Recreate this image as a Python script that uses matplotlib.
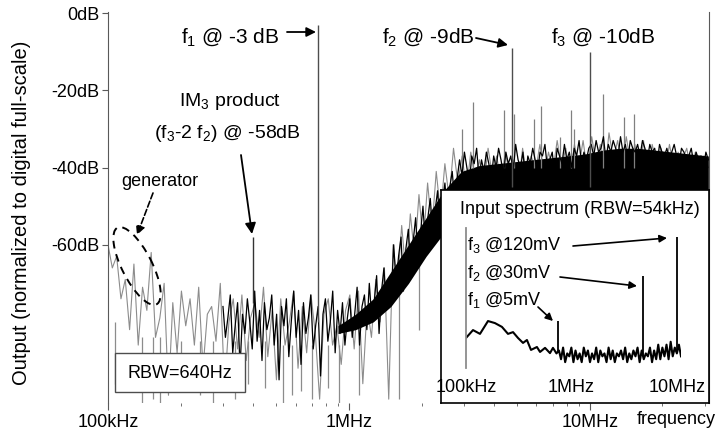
import numpy as np
import matplotlib
matplotlib.use('Agg')
import matplotlib.pyplot as plt
from matplotlib.patches import Ellipse, Rectangle
from matplotlib.transforms import Affine2D
from matplotlib.ticker import FixedLocator, NullFormatter

plt.rcParams['font.family'] = ['Liberation Sans', 'DejaVu Sans']
plt.rcParams['mathtext.fontset'] = 'custom'
plt.rcParams['mathtext.rm'] = 'Liberation Sans'
plt.rcParams['mathtext.it'] = 'Liberation Sans'

# ---- main spectrum (MHz, dB) ----
# gray trace, sampled on a log grid 0.1 .. 31 MHz
gray_f = np.geomspace(0.1, 31, 140)
gray_db = [-60, -66, -63, -74, -69, -82, -65, -86, -71, -77,
           -62, -84, -79, -70, -99, -75, -88, -72, -81, -74,
           -86, -71, -92, -78, -76, -85, -70, -97, -80, -74,
           -87, -73, -90, -79, -75, -84, -71, -89, -77, -95,
           -74, -86, -80, -72, -92, -76, -88, -73, -83, -100,
           -78, -74, -86, -81, -91, -77, -73, -87, -72, -96,
           -76, -84, -69, -80, -66, -100, -60, -71, -55, -68,
           -52, -63, -47, -60, -44, -56, -41, -52, -39, -48,
           -35, -44, -37, -46, -36, -43, -38, -45, -35, -42,
           -37, -44, -36, -42, -38, -45, -35, -43, -37, -41,
           -34, -42, -36, -41, -33, -40, -35, -43, -34, -40,
           -33, -41, -32, -39, -34, -42, -31, -38, -33, -40,
           -32, -39, -34, -41, -33, -45, -34, -39, -35, -41,
           -34, -40, -36, -38, -35, -41, -36, -39, -37, -40]

# black trace, 0.3 .. 31 MHz
black_f = np.geomspace(0.3, 31, 200)
black_db = [-76, -84, -79, -73, -88, -81, -75, -92, -78, -83,
            -74, -80, -87, -72, -85, -77, -90, -75, -82, -79,
            -73, -86, -78, -95, -76, -81, -74, -89, -80, -72,
            -84, -77, -91, -75, -83, -79, -73, -87, -81, -76,
            -94, -78, -74, -85, -80, -72, -88, -77, -83, -75,
            -86, -79,
            -74, -84, -78, -71, -86, -76, -73, -82, -70, -79,
            -75, -68, -83, -72, -66, -77, -69, -74,
            -60, -70, -63, -58, -72, -61, -56, -66, -59, -53, -64, -57,
            -50, -60, -53, -48, -57, -51, -46, -55, -49, -44, -52, -45, -41, -49, -43,
            -38, -42, -36, -40, -44, -37, -39, -35, -43, -38,
            -41, -36, -39, -43, -37, -40, -35, -38, -42, -36,
            -39, -37, -41, -34, -38, -40, -36, -43, -37, -39,
            -35, -38, -41, -36, -37, -34, -40, -38, -36, -42,
            -35, -37, -39, -34, -38, -36, -40, -35, -37, -33,
            -39, -36, -38, -35,
            -34, -37, -33, -36, -35, -32, -38, -34, -36, -33,
            -35, -37, -32, -36, -34, -38, -33, -35, -36, -34,
            -37, -33, -35, -38, -34, -36, -35, -39, -34, -36,
            -37, -35, -38, -36, -34, -37, -39, -35, -36, -38,
            -37, -35, -39, -36, -38, -37, -40, -36, -38]

# solid core of the noise band
band_f = np.geomspace(0.9, 31, 22)
band_top = [-81, -78, -74, -67, -60, -53, -46, -41, -39.5, -39, -38.5,
            -38, -37.5, -37, -36.5, -35.5, -35, -35, -35.5, -36, -36.5, -37]
band_bot = [-83, -82, -80, -76, -70, -63, -57, -62, -62, -62, -62,
            -62, -62, -62, -62, -62, -62, -62, -62, -62, -62, -62]

# deep dips of the noise
dip_f = [0.107, 0.138, 0.154, 0.164, 0.20, 0.24, 0.273, 0.336, 0.38, 0.45, 0.53,
         0.58, 0.63, 0.70, 0.82, 0.91, 1.1, 1.62, 1.95]
dip_from = [-80, -84, -84, -84, -85, -85, -85, -85, -85, -85, -86,
            -86, -86, -86, -86, -86, -84, -70, -62]
dip_db = [-96, -101, -100, -101, -98, -99, -101, -100, -96, -97, -101,
          -99, -98, -100, -97, -101, -99, -100, -82]

# spurs on the plateau
spur_f = [2.94, 3.27, 4.40, 4.85, 5.86, 6.26, 7.5, 8.35, 8.6, 11.3, 13.8, 15.2]
spur_db = [-30, -23, -25, -26, -27.5, -24, -32, -25, -30, -21, -27, -26]

# tones and IM3
tone_f = [0.743, 4.75, 10.0]
tone_db = [-3, -9, -10]
tone_from = [-80, -45, -45]
im3_f = 0.40
im3_db = -58

# ---- inset: input spectrum ----
ins_hump_f = [0.1, 0.1165, 0.1357, 0.1616, 0.188, 0.219, 0.25, 0.279, 0.311,
              0.347, 0.378, 0.413, 0.47, 0.503, 0.561, 0.625, 0.667, 0.72]
ins_hump_db = [-34.7, -32, -33.3, -28.9, -29.6, -30.9, -33.3, -32.7, -34.7,
               -36.4, -35.4, -38.8, -37.8, -39.5, -38.1, -39.9, -38.1, -40]
ins_noise_f = np.geomspace(0.76, 10.9, 60)
ins_noise_db = [-39, -42, -38, -43, -40, -41, -38, -43, -39, -42,
                -40, -43, -38, -41, -39, -43, -40, -42, -38, -43,
                -39, -41, -40, -43, -38, -42, -39, -43, -40, -41,
                -39, -42, -38, -43, -40, -42, -39, -41, -38, -43,
                -39, -42, -40, -41, -38, -43, -39, -42, -37, -42,
                -38, -41, -37, -42, -36, -41, -38, -40, -37, -41]
ins_tone_f = [0.743, 4.75, 10.0]
ins_tone_db = [-29, -13.5, 0]

fig = plt.figure(figsize=(7.22, 4.4), dpi=100)
# pixel coordinates with origin at top-left of the picture
px = Affine2D().scale(1 / 722, -1 / 440).translate(0, 1) + fig.transFigure

ax = fig.add_axes([108 / 722, 1 - 403 / 440, 601 / 722, 391 / 440])
ax.set_xscale('log')

ax.plot(gray_f, gray_db, color='0.55', lw=0.8, zorder=1)
ax.vlines(dip_f, dip_from, dip_db, color='0.55', lw=0.9, zorder=1.5)
ax.fill_between(band_f, band_bot, band_top, color='black', lw=0, zorder=2)
ax.vlines(spur_f, -40, spur_db, color='0.5', lw=0.9, zorder=2.5)
ax.plot(black_f, black_db, color='black', lw=0.9, zorder=3)
ax.vlines(tone_f, tone_from, tone_db, color='0.3', lw=1.0, zorder=4)
ax.vlines(im3_f, -75, im3_db, color='0.2', lw=1.0, zorder=4)

ax.set_xlim(0.1, 31.2)
ax.set_ylim(-101, 0.3)
for s in ['top', 'bottom']:
    ax.spines[s].set_visible(False)
for s in ['left', 'right']:
    ax.spines[s].set_color('0.35')
    ax.spines[s].set_linewidth(0.8)

ax.xaxis.set_major_locator(FixedLocator([0.1, 1, 10]))
ax.set_xticklabels(['100kHz', '1MHz', '10MHz'])
minor = [k * 10.0 ** e for e in (-1, 0, 1) for k in range(2, 10) if k * 10.0 ** e < 31.2]
ax.xaxis.set_minor_locator(FixedLocator(minor))
ax.xaxis.set_minor_formatter(NullFormatter())
ax.tick_params(axis='x', which='major', length=5, width=0.8, color='0.35', pad=3, labelsize=13)
ax.tick_params(axis='x', which='minor', length=2.5, width=0.6, color='0.35')
ax.set_yticks([0, -20, -40, -60], ['0dB', '-20dB', '-40dB', '-60dB'])
ax.tick_params(axis='y', length=4, width=0.8, color='0.35', pad=2, labelsize=13)
ax.text(676, 420, 'frequency', transform=px, ha='center', va='center', fontsize=13)

fig.text(22 / 722, 1 - 213 / 440, 'Output (normalized to digital full-scale)',
         rotation=90, ha='center', va='center', fontsize=14.5)

# annotations
ax.text(230, 37, 'f$_1$ @ -3 dB', transform=px, ha='center', va='center', fontsize=15)
ax.annotate('', xy=(316, 32), xytext=(287, 32), xycoords=px, textcoords=px,
            arrowprops=dict(arrowstyle='-|>', color='k', lw=1.3, mutation_scale=14,
                            shrinkA=0, shrinkB=0), annotation_clip=False)
ax.text(428, 37, 'f$_2$ @ -9dB', transform=px, ha='center', va='center', fontsize=15)
ax.annotate('', xy=(508, 45), xytext=(476, 38), xycoords=px, textcoords=px,
            arrowprops=dict(arrowstyle='-|>', color='k', lw=1.3, mutation_scale=14,
                            shrinkA=0, shrinkB=0), annotation_clip=False)
ax.text(603, 37, 'f$_3$ @ -10dB', transform=px, ha='center', va='center', fontsize=15)
ax.text(230, 101, 'IM$_3$ product', transform=px, ha='center', va='center', fontsize=14)
ax.text(227, 133, '(f$_3$-2 f$_2$) @ -58dB', transform=px, ha='center', va='center', fontsize=14)
ax.annotate('', xy=(252, 234), xytext=(241, 155), xycoords=px, textcoords=px,
            arrowprops=dict(arrowstyle='-|>', color='k', lw=1.3, mutation_scale=16,
                            shrinkA=0, shrinkB=0), annotation_clip=False)
ax.text(160, 181, 'generator', transform=px, ha='center', va='center', fontsize=13)
ax.annotate('', xy=(137, 235), xytext=(153, 193), xycoords=px, textcoords=px,
            arrowprops=dict(arrowstyle='-|>', color='k', lw=1.2, ls='--', mutation_scale=13,
                            shrinkA=0, shrinkB=0), annotation_clip=False)
ell = Ellipse((137, 266), width=86, height=30, angle=63, transform=px, fill=False,
              ec='k', lw=1.4, ls=(0, (4, 3)), zorder=6, clip_on=False)
ax.add_patch(ell)
ax.add_patch(Rectangle((115, 353), 130, 39, transform=px, fc='white', ec='0.3',
                       lw=1.0, zorder=6, clip_on=False))
ax.text(180, 373, 'RBW=640Hz', transform=px, ha='center', va='center', fontsize=13, zorder=7)

# inset frame
box = fig.add_axes([441 / 722, 1 - 403 / 440, 268 / 722, 213 / 440], zorder=5)
box.set_xticks([])
box.set_yticks([])
for s in box.spines.values():
    s.set_linewidth(1.2)
    s.set_color('black')
box.text(580, 210, 'Input spectrum (RBW=54kHz)', transform=px, ha='center', va='center',
         fontsize=13)

ins = fig.add_axes([466 / 722, 1 - 368 / 440, 215 / 722, 140 / 440], zorder=6)
ins.patch.set_alpha(0)
ins.set_xscale('log')
ins.plot(list(ins_hump_f) + list(ins_noise_f), ins_hump_db + ins_noise_db,
         color='black', lw=1.5)
ins.vlines(ins_tone_f, [-40, -41, -40], ins_tone_db, color='black', lw=1.3)
ins.set_xlim(0.1, 10.9)
ins.set_ylim(-45, 3)
for s in ['top', 'right', 'bottom']:
    ins.spines[s].set_visible(False)
ins.spines['left'].set_color('0.55')
ins.spines['left'].set_linewidth(1.3)
ins.set_yticks([])
ins.xaxis.set_major_locator(FixedLocator([0.1, 1, 10]))
ins.set_xticklabels(['100kHz', '1MHz', '10MHz'])
ins.xaxis.set_minor_locator(FixedLocator([]))
ins.tick_params(axis='x', length=0, pad=8, labelsize=13)

ins.text(467, 245, 'f$_3$ @120mV', transform=px, ha='left', va='center', fontsize=13)
ins.text(467, 273, 'f$_2$ @30mV', transform=px, ha='left', va='center', fontsize=13)
ins.text(467, 300, 'f$_1$ @5mV', transform=px, ha='left', va='center', fontsize=13)
for a, b in [((667, 238), (573, 246)), ((637, 286), (560, 277)), ((553, 321), (538, 307))]:
    ins.annotate('', xy=a, xytext=b, xycoords=px, textcoords=px,
                 arrowprops=dict(arrowstyle='-|>', color='k', lw=1.2, mutation_scale=11,
                                 shrinkA=0, shrinkB=0), annotation_clip=False)

fig.savefig('out.png', dpi=100)
